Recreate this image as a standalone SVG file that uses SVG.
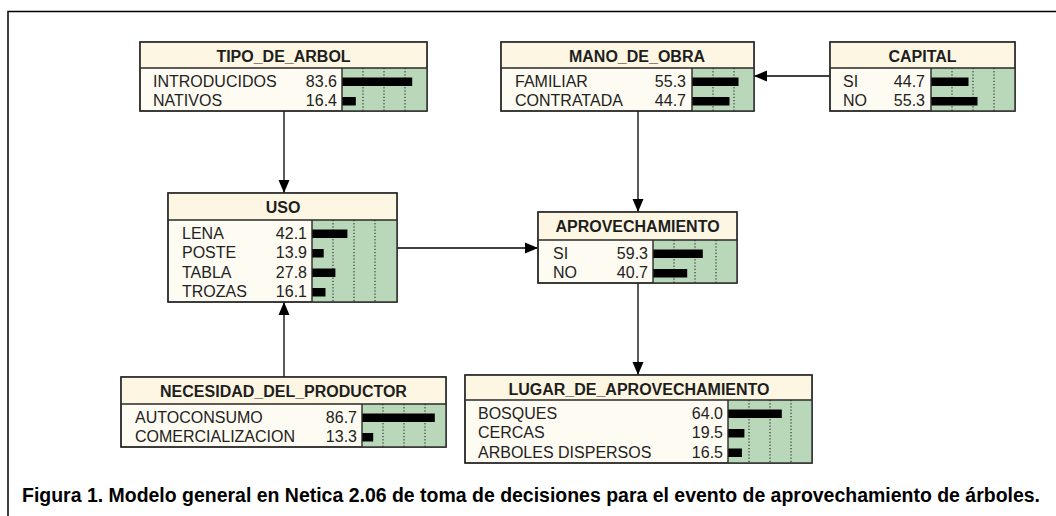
<svg xmlns="http://www.w3.org/2000/svg" width="1056" height="516" viewBox="0 0 1056 516">
<style>
.bg{fill:#ffffff}
.frame{fill:none;stroke:#000;stroke-width:1.5}
.box{fill:#fefbf2;stroke:#2a2a2a;stroke-width:1.4}
.hdr{fill:#fcf6e3}
.grn{fill:#b9d8b9}
.edge{fill:none;stroke:#2a2a2a;stroke-width:1.4}
.dot{stroke:#111;stroke-width:1;stroke-dasharray:1.2,2}
.bar{fill:#000}
.ttl{font-family:"Liberation Sans",Arial,sans-serif;font-weight:bold;font-size:16px;fill:#1e1e1e;text-anchor:middle}
.lbl{font-family:"Liberation Sans",Arial,sans-serif;font-size:16px;fill:#222}
.val{font-family:"Liberation Sans",Arial,sans-serif;font-size:16px;fill:#222;text-anchor:end}
.con{stroke:#000;stroke-width:1.3;fill:none}
.cap{font-family:"Liberation Sans",Arial,sans-serif;font-weight:bold;font-size:19.5px;fill:#000}
</style>
<defs>
<marker id="ah" markerUnits="userSpaceOnUse" markerWidth="13" markerHeight="12" viewBox="0 0 13 12" refX="13" refY="6" orient="auto">
<path d="M0,0.5 L13,6 L0,11.5 Z" fill="#000"/>
</marker>
</defs>
<rect class="bg" x="0" y="0" width="1056" height="516"/>
<path class="frame" d="M8,516 L8,11.5 L1056,11.5"/>

<g id="connectors">
<line class="con" x1="284" y1="111" x2="284" y2="193" marker-end="url(#ah)"/>
<line class="con" x1="638" y1="111" x2="638" y2="212" marker-end="url(#ah)"/>
<line class="con" x1="830" y1="76" x2="754" y2="76" marker-end="url(#ah)"/>
<line class="con" x1="397" y1="248" x2="538" y2="248" marker-end="url(#ah)"/>
<line class="con" x1="638" y1="283" x2="638" y2="375" marker-end="url(#ah)"/>
<line class="con" x1="284" y1="377" x2="284" y2="302" marker-end="url(#ah)"/>
</g>

<g id="tipo_de_arbol">
<rect class="box" x="140" y="42" width="287" height="69"/>
<rect class="hdr" x="140.7" y="42.7" width="285.6" height="25.3"/>
<rect class="grn" x="342" y="68" width="85" height="43"/>
<line class="dot" x1="363" y1="68" x2="363" y2="111"/><line class="dot" x1="384" y1="68" x2="384" y2="111"/><line class="dot" x1="405" y1="68" x2="405" y2="111"/>
<rect class="bar" x="342" y="77.5" width="70.2" height="8.5"/>
<rect class="bar" x="342" y="97" width="13.8" height="8.5"/>
<path class="edge" d="M140,68 H427 M342,68 V111"/>
<rect class="edge" x="140" y="42" width="287" height="69"/>
<text class="ttl" x="283.5" y="61.5">TIPO_DE_ARBOL</text>
<text class="lbl" x="153" y="86.5">INTRODUCIDOS</text><text class="val" x="337" y="86.5">83.6</text>
<text class="lbl" x="153" y="106">NATIVOS</text><text class="val" x="337" y="106">16.4</text>
</g>

<g id="mano_de_obra">
<rect class="box" x="501" y="42" width="253" height="69"/>
<rect class="hdr" x="501.7" y="42.7" width="251.6" height="25.3"/>
<rect class="grn" x="692" y="68" width="62" height="43"/>
<line class="dot" x1="713" y1="68" x2="713" y2="111"/><line class="dot" x1="734" y1="68" x2="734" y2="111"/>
<rect class="bar" x="692" y="77.5" width="46.5" height="8.5"/>
<rect class="bar" x="692" y="97" width="37.5" height="8.5"/>
<path class="edge" d="M501,68 H754 M692,68 V111"/>
<rect class="edge" x="501" y="42" width="253" height="69"/>
<text class="ttl" x="637" y="61.5">MANO_DE_OBRA</text>
<text class="lbl" x="515" y="86.5">FAMILIAR</text><text class="val" x="686" y="86.5">55.3</text>
<text class="lbl" x="515" y="106">CONTRATADA</text><text class="val" x="686" y="106">44.7</text>
</g>

<g id="capital">
<rect class="box" x="830" y="42" width="185" height="69"/>
<rect class="hdr" x="830.7" y="42.7" width="183.6" height="25.3"/>
<rect class="grn" x="931" y="68" width="84" height="43"/>
<line class="dot" x1="952" y1="68" x2="952" y2="111"/><line class="dot" x1="973" y1="68" x2="973" y2="111"/><line class="dot" x1="994" y1="68" x2="994" y2="111"/>
<rect class="bar" x="931" y="77.5" width="37.5" height="8.5"/>
<rect class="bar" x="931" y="97" width="46.5" height="8.5"/>
<path class="edge" d="M830,68 H1015 M931,68 V111"/>
<rect class="edge" x="830" y="42" width="185" height="69"/>
<text class="ttl" x="922.5" y="61.5">CAPITAL</text>
<text class="lbl" x="843" y="86.5">SI</text><text class="val" x="925" y="86.5">44.7</text>
<text class="lbl" x="843" y="106">NO</text><text class="val" x="925" y="106">55.3</text>
</g>

<g id="uso">
<rect class="box" x="168" y="193" width="229" height="109"/>
<rect class="hdr" x="168.7" y="193.7" width="227.6" height="26.3"/>
<rect class="grn" x="312" y="220" width="85" height="82"/>
<line class="dot" x1="333" y1="220" x2="333" y2="302"/><line class="dot" x1="354" y1="220" x2="354" y2="302"/><line class="dot" x1="375" y1="220" x2="375" y2="302"/>
<rect class="bar" x="312" y="229.5" width="35.4" height="8.5"/>
<rect class="bar" x="312" y="249" width="11.7" height="8.5"/>
<rect class="bar" x="312" y="268.5" width="23.4" height="8.5"/>
<rect class="bar" x="312" y="288" width="13.5" height="8.5"/>
<path class="edge" d="M168,220 H397 M312,220 V302"/>
<rect class="edge" x="168" y="193" width="229" height="109"/>
<text class="ttl" x="283" y="212.5">USO</text>
<text class="lbl" x="182" y="238.5">LENA</text><text class="val" x="307" y="238.5">42.1</text>
<text class="lbl" x="182" y="258">POSTE</text><text class="val" x="307" y="258">13.9</text>
<text class="lbl" x="182" y="277.5">TABLA</text><text class="val" x="307" y="277.5">27.8</text>
<text class="lbl" x="182" y="297">TROZAS</text><text class="val" x="307" y="297">16.1</text>
</g>

<g id="aprovechamiento">
<rect class="box" x="538" y="212" width="199" height="71"/>
<rect class="hdr" x="538.7" y="212.7" width="197.6" height="27.3"/>
<rect class="grn" x="653" y="240" width="84" height="43"/>
<line class="dot" x1="674" y1="240" x2="674" y2="283"/><line class="dot" x1="695" y1="240" x2="695" y2="283"/><line class="dot" x1="716" y1="240" x2="716" y2="283"/>
<rect class="bar" x="653" y="249.5" width="49.8" height="8.5"/>
<rect class="bar" x="653" y="269" width="34.2" height="8.5"/>
<path class="edge" d="M538,240 H737 M653,240 V283"/>
<rect class="edge" x="538" y="212" width="199" height="71"/>
<text class="ttl" x="637.5" y="231.5">APROVECHAMIENTO</text>
<text class="lbl" x="553" y="258.5">SI</text><text class="val" x="648" y="258.5">59.3</text>
<text class="lbl" x="553" y="278">NO</text><text class="val" x="648" y="278">40.7</text>
</g>

<g id="necesidad_del_productor">
<rect class="box" x="121" y="377" width="325" height="70"/>
<rect class="hdr" x="121.7" y="377.7" width="323.6" height="26.3"/>
<rect class="grn" x="362" y="404" width="84" height="43"/>
<line class="dot" x1="383" y1="404" x2="383" y2="447"/><line class="dot" x1="404" y1="404" x2="404" y2="447"/><line class="dot" x1="425" y1="404" x2="425" y2="447"/>
<rect class="bar" x="362" y="413.5" width="72.8" height="8.5"/>
<rect class="bar" x="362" y="433" width="11.2" height="8.5"/>
<path class="edge" d="M121,404 H446 M362,404 V447"/>
<rect class="edge" x="121" y="377" width="325" height="70"/>
<text class="ttl" x="283.5" y="396.5">NECESIDAD_DEL_PRODUCTOR</text>
<text class="lbl" x="135" y="422.5">AUTOCONSUMO</text><text class="val" x="357" y="422.5">86.7</text>
<text class="lbl" x="135" y="442">COMERCIALIZACION</text><text class="val" x="357" y="442">13.3</text>
</g>

<g id="lugar_de_aprovechamiento">
<rect class="box" x="465" y="375" width="347" height="88"/>
<rect class="hdr" x="465.7" y="375.7" width="345.6" height="24.3"/>
<rect class="grn" x="728" y="400" width="84" height="63"/>
<line class="dot" x1="749" y1="400" x2="749" y2="463"/><line class="dot" x1="770" y1="400" x2="770" y2="463"/><line class="dot" x1="791" y1="400" x2="791" y2="463"/>
<rect class="bar" x="728" y="409.5" width="53.8" height="8.5"/>
<rect class="bar" x="728" y="429" width="16.4" height="8.5"/>
<rect class="bar" x="728" y="448.5" width="13.9" height="8.5"/>
<path class="edge" d="M465,400 H812 M728,400 V463"/>
<rect class="edge" x="465" y="375" width="347" height="88"/>
<text class="ttl" x="639" y="394.5">LUGAR_DE_APROVECHAMIENTO</text>
<text class="lbl" x="478" y="418.5">BOSQUES</text><text class="val" x="723" y="418.5">64.0</text>
<text class="lbl" x="478" y="438">CERCAS</text><text class="val" x="723" y="438">19.5</text>
<text class="lbl" x="478" y="457.5">ARBOLES DISPERSOS</text><text class="val" x="723" y="457.5">16.5</text>
</g>

<text class="cap" x="22" y="502" textLength="1018" lengthAdjust="spacingAndGlyphs">Figura 1. Modelo general en Netica 2.06 de toma de decisiones para el evento de aprovechamiento de árboles.</text>
</svg>
